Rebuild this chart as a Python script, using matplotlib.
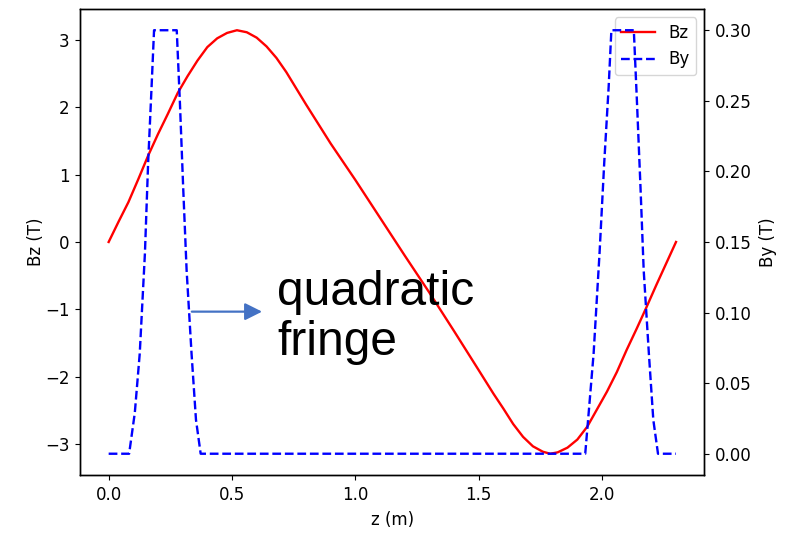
import matplotlib
matplotlib.use("Agg")
import matplotlib.pyplot as plt

# Longitudinal field Bz along the channel (sampled points)
z_bz = [0.00, 0.04, 0.08, 0.12, 0.16, 0.20, 0.24, 0.28, 0.32, 0.36, 0.40, 0.44,
        0.48, 0.52, 0.56, 0.60, 0.64, 0.68, 0.72, 0.76, 0.80, 0.90, 1.00, 1.10,
        1.20, 1.30, 1.40, 1.50, 1.56, 1.60, 1.64, 1.68, 1.72, 1.76, 1.79, 1.82,
        1.86, 1.90, 1.94, 1.98, 2.02, 2.06, 2.10, 2.14, 2.18, 2.22, 2.26, 2.30]
bz = [0.00, 0.30, 0.59, 0.93, 1.28, 1.60, 1.90, 2.21, 2.46, 2.69, 2.89, 3.02,
      3.10, 3.14, 3.11, 3.03, 2.90, 2.73, 2.52, 2.28, 2.04, 1.46, 0.92, 0.36,
      -0.20, -0.75, -1.32, -1.90, -2.25, -2.47, -2.70, -2.89, -3.03, -3.11, -3.14, -3.12,
      -3.05, -2.93, -2.74, -2.48, -2.22, -1.93, -1.60, -1.29, -0.97, -0.64, -0.32, 0.00]

# Transverse field By: two dipoles with quadratic fringes
z_by = [0.000, 0.083, 0.106, 0.126, 0.147, 0.160, 0.174, 0.184, 0.276, 0.289,
        0.302, 0.316, 0.336, 0.354, 0.373, 1.932, 1.946, 1.966, 1.990, 2.009,
        2.027, 2.038, 2.129, 2.142, 2.156, 2.169, 2.190, 2.208, 2.227, 2.300]
by = [0.0, 0.0, 0.029, 0.071, 0.142, 0.206, 0.260, 0.300, 0.300, 0.248,
      0.189, 0.130, 0.071, 0.024, 0.0, 0.0, 0.029, 0.071, 0.142, 0.206,
      0.260, 0.300, 0.300, 0.248, 0.189, 0.130, 0.071, 0.024, 0.0, 0.0]

FS = 12

fig, ax1 = plt.subplots(figsize=(7.95, 5.33), dpi=100)
fig.subplots_adjust(left=0.101, right=0.886, bottom=0.109, top=0.983)

l1, = ax1.plot(z_bz, bz, '-', color='red', lw=1.7, label='Bz')
ax1.set_xlabel('z (m)', fontsize=FS, labelpad=5)
ax1.set_ylabel('Bz (T)', fontsize=FS, labelpad=0)
ax1.tick_params(labelsize=FS, length=3.6, pad=4.2)

ax2 = ax1.twinx()
l2, = ax2.plot(z_by, by, '--', color='blue', lw=1.7, label='By')
ax2.set_ylabel('By (T)', fontsize=FS, labelpad=5)
ax2.tick_params(labelsize=FS, length=3.6, pad=4.2)

for ax in (ax1, ax2):
    for s in ax.spines.values():
        s.set_linewidth(1.0)

ax1.legend(handles=[l1, l2], loc='upper right', fontsize=FS)

# note on the fringe shape
ax1.annotate('', xy=(0.622, -1.033), xytext=(0.337, -1.033),
             arrowprops=dict(arrowstyle='-|>,head_length=0.4,head_width=0.2',
                             color='#4472C4', lw=1.6, mutation_scale=26,
                             shrinkA=0, shrinkB=0))
ax1.text(0.682, -0.42, 'quadratic\nfringe', fontsize=34.5, family='Liberation Sans',
         ha='left', va='top', linespacing=1.12)

plt.savefig('out.png')
